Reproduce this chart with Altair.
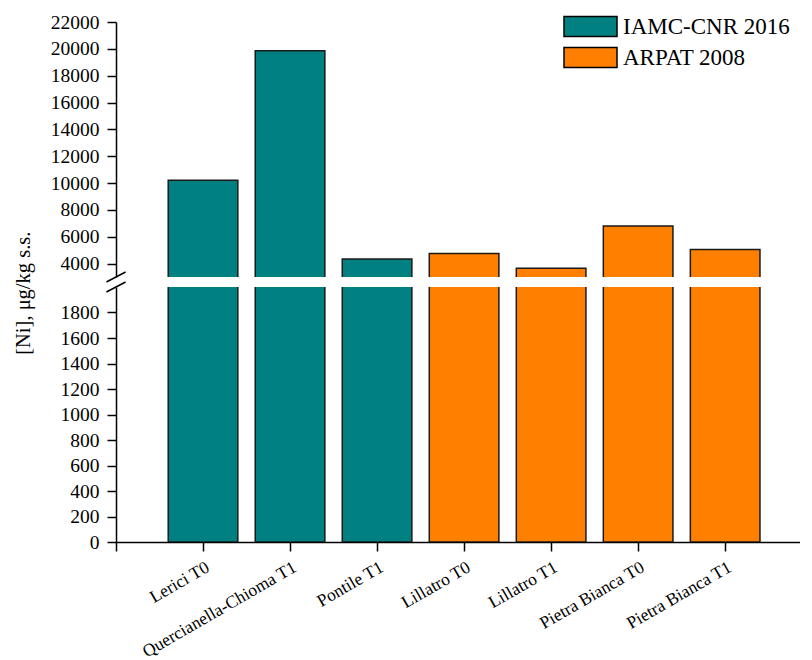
import json
import altair as alt
import pandas as pd

# ---------------- data ----------------
categories = ["Lerici T0", "Quercianella-Chioma T1", "Pontile T1", "Lillatro T0",
              "Lillatro T1", "Pietra Bianca T0", "Pietra Bianca T1"]
ni_values = [10200, 19850, 4350, 4750, 3650, 6800, 5050]
sources = ["IAMC-CNR 2016", "IAMC-CNR 2016", "IAMC-CNR 2016",
           "ARPAT 2008", "ARPAT 2008", "ARPAT 2008", "ARPAT 2008"]
series_names = ["IAMC-CNR 2016", "ARPAT 2008"]
series_colors = ["#008080", "#FF8000"]
upper_ticks = [4000, 6000, 8000, 10000, 12000, 14000, 16000, 18000, 20000, 22000]
lower_ticks = [0, 200, 400, 600, 800, 1000, 1200, 1400, 1600, 1800]
upper_domain = [3000, 22000]
lower_domain = [0, 2000]
y_title = "[Ni], μg/kg s.s."

FONT = "Liberation Serif"

df = pd.DataFrame({
    "site": categories,
    "ni": ni_values,
    "source": sources,
    "pos": list(range(1, len(categories) + 1)),
})

n = len(categories)
x_labels = [""] + categories
label_expr = "[" + ",".join(json.dumps(s) for s in x_labels) + "][datum.value]"
x_scale = alt.Scale(domain=[0, 7.86], nice=False, zero=False)
fill_scale = alt.Scale(domain=series_names, range=series_colors)

W, H = 684, 255

# break markers (decorative slashes on the y axis)
up_slash = pd.DataFrame({"xa": [-0.11], "xb": [0.11], "ya": [3000 - 373], "yb": [3000 + 373]})
lo_slash = pd.DataFrame({"xa": [-0.11], "xb": [0.11], "ya": [2000 - 39], "yb": [2000 + 39]})


def panel(domain, x_axis, y_axis, legend, slash_df):
    ysc = alt.Scale(domain=domain, nice=False, zero=False)
    bars = alt.Chart(df).transform_calculate(
        x0="datum.pos - 0.4", x1="datum.pos + 0.4"
    ).mark_bar(stroke="#1a1a1a", strokeWidth=1.5, clip=True).encode(
        x=alt.X("x0:Q", scale=x_scale, axis=x_axis),
        x2="x1:Q",
        y=alt.Y("ni:Q", scale=ysc, axis=y_axis),
        y2=alt.datum(0),
        fill=alt.Fill("source:N", scale=fill_scale, legend=legend, sort=series_names),
    )
    slash = alt.Chart(slash_df).mark_rule(color="black", strokeWidth=1.5, clip=False).encode(
        x=alt.X("xa:Q", scale=x_scale, axis=x_axis),
        x2="xb:Q",
        y=alt.Y("ya:Q", scale=ysc, axis=y_axis),
        y2="yb:Q",
    )
    return alt.layer(bars, slash).properties(width=W, height=H)


y_axis_common = dict(tickSize=9, labelPadding=8, labelFontSize=19.5, grid=False,
                     domainWidth=1.5, tickWidth=1.5, format="d")

upper_y_axis = alt.Axis(values=upper_ticks, title=None, **y_axis_common)
lower_y_axis = alt.Axis(values=lower_ticks, title=y_title, titleFontSize=20.5,
                        titleFontWeight="normal", titleX=-92.7, titleY=5.7,
                        titleAngle=270, titleAlign="center", titleBaseline="middle",
                        **y_axis_common)
lower_x_axis = alt.Axis(values=list(range(0, n + 1)), labelExpr=label_expr, title=None,
                        tickSize=9, labelPadding=7, labelFontSize=17.5, labelAngle=-30,
                        labelAlign="right", labelBaseline="top", labelOverlap=False,
                        labelFlush=False, grid=False, domainWidth=1.5, tickWidth=1.5,
                        labelBound=False)

legend = alt.Legend(
    title=None, orient="none", legendX=463, legendY=-7, padding=0,
    symbolType="M-2.65,-1L2.65,-1L2.65,1L-2.65,1Z", symbolSize=400,
    symbolStrokeColor="black", symbolStrokeWidth=1.5, symbolOpacity=1,
    labelFont=FONT, labelFontSize=23, labelColor="black", labelOffset=21,
    rowPadding=4, labelLimit=400,
)

upper = panel(upper_domain, None, upper_y_axis, legend, up_slash)
lower = panel(lower_domain, lower_x_axis, lower_y_axis, None, lo_slash)

chart = alt.vconcat(upper, lower, spacing=10, bounds="flush").resolve_scale(
    y="independent"
).resolve_legend(
    fill="independent"
).properties(
    padding={"left": 5, "top": 4, "right": 0, "bottom": 0}
).configure_view(
    stroke=None
).configure_axis(
    labelFont=FONT, titleFont=FONT, labelColor="black", titleColor="black",
    domainColor="black", tickColor="black"
)

chart.save("out.html", embed_options={"renderer": "svg", "actions": False})
